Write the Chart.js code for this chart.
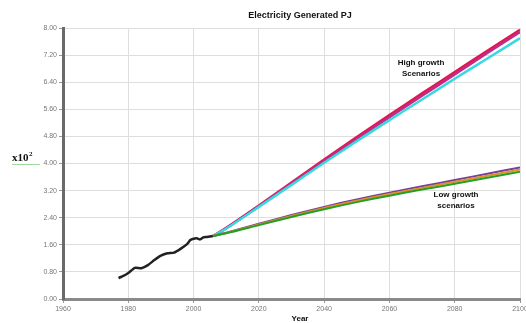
<!DOCTYPE html>
<html>
<head>
<meta charset="utf-8">
<script src="https://cdn.jsdelivr.net/npm/chart.js@4.4.0/dist/chart.umd.min.js"></script>
<style>
  html, body { margin: 0; padding: 0; background: #fff; }
  #wrap { width: 526px; height: 323px; position: relative; }
</style>
</head>
<body>
<div id="wrap"><canvas id="chart"></canvas></div>
<script>
// historical series
const histYears = [1977, 1978, 1980, 1982, 1984, 1986, 1988, 1990, 1992, 1994, 1996, 1998, 1999, 2000, 2001, 2002, 2003, 2004, 2006];
const histValues = [0.62, 0.66, 0.77, 0.92, 0.91, 1.00, 1.15, 1.28, 1.35, 1.37, 1.48, 1.62, 1.74, 1.78, 1.79, 1.76, 1.82, 1.83, 1.86];

// scenario series
const projYears = [2006, 2010, 2020, 2030, 2040, 2050, 2060, 2070, 2080, 2090, 2100];
const highRed = [1.86, 2.10, 2.76, 3.44, 4.12, 4.78, 5.43, 6.07, 6.70, 7.33, 7.95];
const highMagenta = [1.86, 2.09, 2.74, 3.41, 4.08, 4.73, 5.37, 6.00, 6.63, 7.26, 7.88];
const highCyan = [1.86, 2.08, 2.72, 3.37, 4.02, 4.66, 5.28, 5.89, 6.50, 7.10, 7.70];
const lowPurple = [1.86, 1.96, 2.22, 2.48, 2.72, 2.94, 3.14, 3.33, 3.51, 3.70, 3.88];
const lowOrange = [1.86, 1.95, 2.20, 2.45, 2.69, 2.90, 3.10, 3.28, 3.46, 3.64, 3.82];
const lowGreen = [1.86, 1.94, 2.18, 2.42, 2.65, 2.86, 3.05, 3.23, 3.40, 3.58, 3.76];

// axis ticks
const xTicks = [1960, 1980, 2000, 2020, 2040, 2060, 2080, 2100];
const yTicks = [0, 0.8, 1.6, 2.4, 3.2, 4.0, 4.8, 5.6, 6.4, 7.2, 8.0];

function toPoints(xs, ys) {
    return xs.map((x, i) => ({ x: x, y: ys[i] }));
}

function line(label, xs, ys, color, width, tension) {
    return {
        label: label,
        data: toPoints(xs, ys),
        borderColor: color,
        backgroundColor: color,
        borderWidth: width,
        pointRadius: 0,
        tension: tension,
        fill: false
    };
}

// text drawn on top of the chart
const textPlugin = {
    id: 'texts',
    afterDraw(chart) {
        const c = chart.ctx;
        c.save();
        c.fillStyle = '#111';
        c.textAlign = 'center';
        c.textBaseline = 'middle';
        c.font = 'bold 9px "Liberation Sans", Arial, sans-serif';
        c.fillText('Electricity Generated PJ', 300, 16);
        c.font = 'bold 8px "Liberation Sans", Arial, sans-serif';
        c.fillText('Year', 300, 319);
        c.fillText('High growth', 421, 63);
        c.fillText('Scenarios', 421, 74);
        c.fillText('Low growth', 456, 195);
        c.fillText('scenarios', 456, 206);

        // x10² unit label
        c.textAlign = 'left';
        c.font = 'bold 11px "Liberation Serif", "Times New Roman", serif';
        c.fillText('x10', 12, 158);
        const w = c.measureText('x10').width;
        c.font = 'bold 7px "Liberation Serif", serif';
        c.fillText('2', 12 + w + 0.5, 154);
        c.strokeStyle = '#9fd89f';
        c.lineWidth = 1;
        c.beginPath();
        c.moveTo(12, 164.5);
        c.lineTo(40, 164.5);
        c.stroke();
        c.restore();
    }
};

const ctx = document.getElementById('chart').getContext('2d');

new Chart(ctx, {
    type: 'line',
    data: {
        datasets: [
            line('Low green', projYears, lowGreen, '#22a022', 2, 0.3),
            line('Low orange', projYears, lowOrange, '#e0902a', 2, 0.3),
            line('Low purple', projYears, lowPurple, '#7a3f9a', 2, 0.3),
            line('High cyan', projYears, highCyan, '#39d8e0', 2.5, 0.3),
            line('High magenta', projYears, highMagenta, '#c02a8a', 2.5, 0.3),
            line('High red', projYears, highRed, '#e0184a', 2.5, 0.3),
            line('History', histYears, histValues, '#222', 2.5, 0.15)
        ]
    },
    options: {
        responsive: true,
        maintainAspectRatio: false,
        animation: false,
        layout: { padding: { top: 28, right: 0, left: 0, bottom: 0 } },
        plugins: {
            legend: { display: false },
            title: { display: false },
            tooltip: { enabled: false }
        },
        scales: {
            x: {
                type: 'linear',
                min: 1960,
                max: 2100,
                afterBuildTicks: axis => { axis.ticks = xTicks.map(v => ({ value: v })); },
                afterFit: scale => { scale.height = 24; scale.paddingRight = 6; },
                ticks: {
                    maxRotation: 0,
                    color: '#777',
                    font: { size: 7, family: '"Liberation Sans", Arial, sans-serif' },
                    padding: 2,
                    callback: v => String(v)
                },
                grid: { color: '#dedede', tickLength: 4, tickColor: '#999' },
                border: { display: true, color: '#8a8a8a', width: 3 }
            },
            y: {
                min: 0,
                max: 8,
                afterBuildTicks: axis => { axis.ticks = yTicks.map(v => ({ value: v })); },
                afterFit: scale => { scale.width = 63; },
                ticks: {
                    color: '#777',
                    font: { size: 7, family: '"Liberation Sans", Arial, sans-serif' },
                    padding: 2,
                    callback: v => Number(v).toFixed(2)
                },
                grid: { color: '#dedede', tickLength: 4, tickColor: '#999' },
                border: { display: true, color: '#6a6a6a', width: 3 }
            }
        }
    },
    plugins: [textPlugin]
});
</script>
</body>
</html>
